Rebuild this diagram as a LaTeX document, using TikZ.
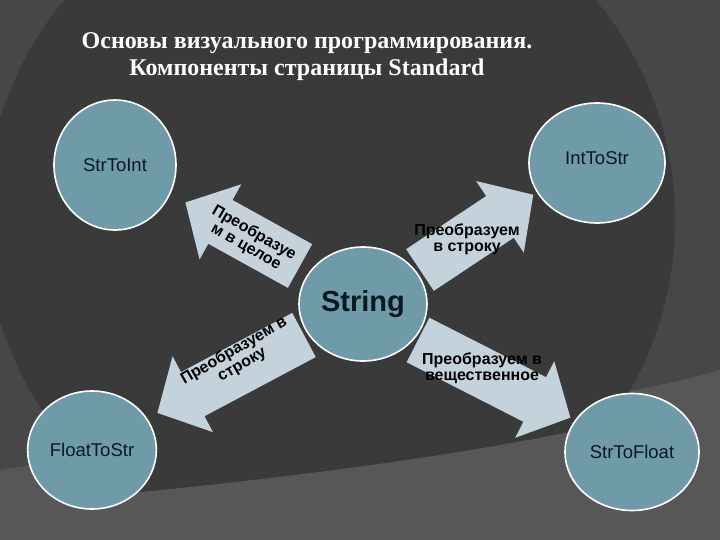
\documentclass[tikz,border=0pt]{standalone}
\usepackage{fontspec}
\setmainfont{Liberation Serif}
\newfontfamily\arial{Liberation Sans}
\usetikzlibrary{shapes.geometric}
\definecolor{bgdark}{HTML}{3A3A3A}
\definecolor{bgmid}{HTML}{474747}
\definecolor{bglight}{HTML}{575757}
\definecolor{circfill}{HTML}{6F9BA9}
\definecolor{arrfill}{HTML}{C4D3DB}
\definecolor{txtdark}{HTML}{0B1822}
\tikzset{
  comp/.style={ellipse,draw=white,line width=1.6pt,fill=circfill,font=\arial\fontsize{18.5}{20}\selectfont,text=txtdark},
  arrtext/.style={font=\arial\bfseries\fontsize{16}{16}\selectfont,text=black,align=center},
}
\newcommand{\fatarrow}[4]{% tailx,taily,angle,length
  \begin{scope}[shift={(#1,#2)},rotate=#3]
    \fill[arrfill] (0,-25) -- ({#4-40},-25) -- ({#4-40},-43) -- (#4,0) -- ({#4-40},43) -- ({#4-40},25) -- (0,25) -- cycle;
  \end{scope}}
\begin{document}
\begin{tikzpicture}[x=1pt,y=-1pt]
\useasboundingbox (0,0) rectangle (720,540);
\fill[bgmid] (0,0) rectangle (720,540);
\fill[bglight] (0,540) -- (0,470) .. controls (250,430) and (550,420) .. (720,370) -- (720,540) -- cycle;
\fill[bgdark] (330,220) circle (345);
\fill[bglight] (0,540) -- (0,505) .. controls (300,480) and (600,440) .. (720,390) -- (720,540) -- cycle;
\node[text=white,font=\bfseries\fontsize{24}{27}\selectfont,align=center] (title) at (307,57) {Основы визуального программирования.\\Компоненты страницы Standard};
% arrows
\fatarrow{300}{266}{151}{131}
\fatarrow{420}{270}{33.6}{136}
\fatarrow{304}{335}{208}{166}
\fatarrow{418}{340}{-27}{171}
\node[arrtext,rotate=-30] (tUL) at (250,240) {Преобразуе\\м в целое};
\node[arrtext] (tUR) at (467,239) {Преобразуем\\в строку};
\node[arrtext,rotate=30] (tLL) at (238,358) {Преобразуем в\\строку};
\node[arrtext] (tLR) at (482,368) {Преобразуем в\\вещественное};
% circles
\node[comp,minimum width=122pt,minimum height=130pt] (s2i) at (115,165) {StrToInt};
\node[comp,minimum width=136pt,minimum height=120pt] (i2s) at (597,163) {};
\node[font=\arial\fontsize{18.5}{20}\selectfont,text=txtdark] (i2st) at (597,158) {IntToStr};
\node[comp,minimum width=126pt,minimum height=118pt] (f2s) at (92,450) {FloatToStr};
\node[comp,minimum width=134pt,minimum height=117pt] (s2f) at (632,452) {StrToFloat};
\node[comp,minimum width=128pt,minimum height=114pt,font=\arial\bfseries\fontsize{29}{30}\selectfont] (str) at (363,304) {String};
\end{tikzpicture}
\end{document}
